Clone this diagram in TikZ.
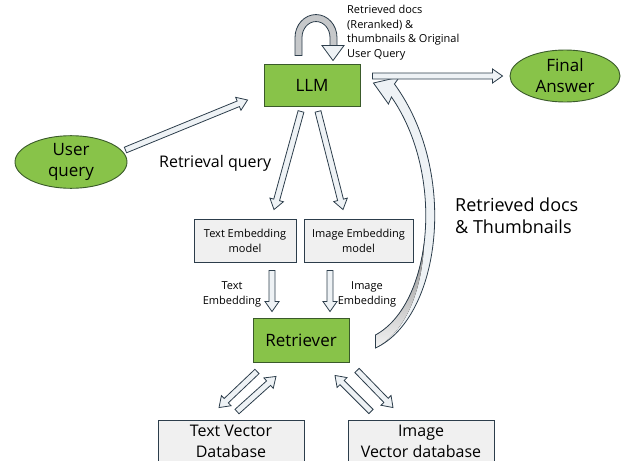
\documentclass[tikz,border=0pt]{standalone}
\usepackage{fontspec}
\setmainfont{Open Sans}
\usetikzlibrary{calc,shapes.geometric}

\definecolor{leaf}{HTML}{88C349}
\definecolor{leafline}{HTML}{3A5A2A}
\definecolor{slate}{HTML}{2C3D4B}
\definecolor{paper}{HTML}{F0F0F0}
\definecolor{arrowfill}{HTML}{EEF2F5}
\definecolor{shade}{HTML}{C6C8CA}

% straight block arrow from #1 to #2
\newcommand{\blockarrow}[2]{%
  \path (#1) coordinate (ba-s) (#2) coordinate (ba-e);
  \path ($(ba-e)!10pt!(ba-s)$) coordinate (ba-m);
  \filldraw[arrowbody] ($(ba-s)!3pt!90:(ba-e)$) -- ($(ba-m)!3pt!90:(ba-e)$)
    -- ($(ba-m)!7pt!90:(ba-e)$) -- (ba-e) -- ($(ba-m)!7pt!-90:(ba-e)$)
    -- ($(ba-m)!3pt!-90:(ba-e)$) -- ($(ba-s)!3pt!-90:(ba-e)$) -- cycle;}

% outline of the curved arrow going back up to the LLM
\newcommand{\returnband}{%
  ($(rfoot)+(1,8)$) .. controls ($(rfoot)+(66,-22)$) and ($(rtip)+(86,90)$)
  .. ($(rtip)+(21,1)$) -- ($(rtip)+(26,-6)$) -- (rtip) -- ($(rtip)+(15,21)$)
  -- ($(rtip)+(18,14)$) .. controls ($(rtip)+(72,92)$) and ($(rfoot)+(58,-36)$)
  .. ($(rfoot)+(1,-5)$) -- cycle}

\tikzset{
  greenbox/.style={draw=leafline, fill=leaf, line width=0.9pt, minimum width=96,
    minimum height=42, font=\fontsize{17}{20}\selectfont},
  greenoval/.style={ellipse, draw=leafline, fill=leaf, line width=0.9pt, align=center,
    inner sep=0pt, font=\fontsize{17}{21}\selectfont},
  modelbox/.style={draw=slate, fill=paper, line width=0.9pt, align=center,
    minimum height=43, font=\fontsize{11}{15}\selectfont},
  dbbox/.style={draw=slate, fill=paper, line width=0.9pt, align=center,
    minimum width=146, minimum height=42, font=\fontsize{16}{21}\selectfont},
  arrowbody/.style={draw=slate, fill=arrowfill, line width=0.8pt, line join=miter},
  note/.style={align=center, inner sep=0pt, font=\fontsize{11}{15}\selectfont}
}

\begin{document}
\begin{tikzpicture}[x=1pt,y=-1pt]
\useasboundingbox (0,0) rectangle (622,461);

\node[greenbox] (llm) at (312,85) {LLM};
\node[greenoval, minimum width=110, minimum height=52] (answer) at (565,76) {Final\\Answer};
\node[greenoval, minimum width=112, minimum height=52] (user) at (71,162) {User\\query};
\node[modelbox, minimum width=102] (textemb) at (245,240.5) {Text Embedding\\model};
\node[modelbox, minimum width=109] (imgemb) at (358.5,240.5) {Image Embedding\\model};
\node[greenbox, minimum height=44] (retriever) at (301,340) {Retriever};
\node[dbbox] (textdb) at (231,441) {Text Vector\\Database};
\node[dbbox] (imgdb) at (421,441) {Image\\Vector database};

% labels
\node[note, anchor=north west, align=left, font=\fontsize{11}{14.5}\selectfont] (ctx) at (347,5)
  {Retrieved docs\\(Reranked) \&\\thumbnails \& Original\\User Query};
\node[note, anchor=west, font=\fontsize{16}{18}\selectfont] (rq) at (159,163) {Retrieval query};
\node[note, anchor=north west, align=left, font=\fontsize{18}{22}\selectfont] (back) at (455,198)
  {Retrieved docs\\\& Thumbnails};
\node[note] (textlbl) at (232,294) {Text\\Embedding};
\node[note] (imglbl) at (367,294) {Image\\Embedding};

% self loop over the LLM
\coordinate (loop) at ($(llm.north)+(4,-26)$);
\filldraw[draw=slate, fill=shade, line width=0.8pt] ($(loop)+(-21,18)$) -- ($(loop)+(-21,0)$)
  arc[start angle=180, end angle=360, x radius=21, y radius=23] -- ++(0,8) -- ++(-7,0)
  -- ++(0,-8) arc[start angle=0, end angle=-180, x radius=14, y radius=16] -- ++(0,18) -- cycle;
\filldraw[arrowbody] ($(loop)+(28,8)$) -- ($(loop)+(17,23)$) -- ($(loop)+(6,8)$) -- cycle;

% curved arrow from the retriever back to the LLM
\coordinate (rfoot) at ($(retriever.east)+(25,0)$);
\coordinate (rtip) at ($(llm.east)+(13,-2)$);
\fill[arrowfill] \returnband;
\begin{scope}
  \clip \returnband;
  \fill[shade] ($(rfoot)+(1,8)$) .. controls ($(rfoot)+(31,-8)$) and ($(rfoot)+(50,-50)$)
    .. ($(rfoot)+(50,-110)$) -- ($(rfoot)+(-20,-110)$) -- ($(rfoot)+(-20,20)$) -- cycle;
\end{scope}
\draw[slate, line width=0.8pt, line join=miter] \returnband;

% straight arrows
\blockarrow{$(user.east)+(-2,-12)$}{$(llm.west)+(-16,15)$}
\blockarrow{$(llm.east)+(12,-9)$}{$(answer.west)+(-7,0)$}
\blockarrow{$(llm.south)+(-11,5)$}{$(textemb.north)+(29,-9)$}
\blockarrow{$(llm.south)+(6,5)$}{$(imgemb.north)+(-15.5,-9)$}
\blockarrow{$(textemb.south)+(27,8)$}{$(retriever.north)+(-29,-6)$}
\blockarrow{$(imgemb.south)+(-28.5,8)$}{$(retriever.north)+(29,-6)$}
\blockarrow{$(retriever.south)+(-44,9)$}{$(textdb.north)+(-12,-12)$}
\blockarrow{$(textdb.north)+(6,-8)$}{$(retriever.south)+(-25,14)$}
\blockarrow{$(imgdb.north)+(-50,-8)$}{$(retriever.south)+(34,13)$}
\blockarrow{$(retriever.south)+(56,8)$}{$(imgdb.north)+(-28,-12)$}
\end{tikzpicture}
\end{document}
